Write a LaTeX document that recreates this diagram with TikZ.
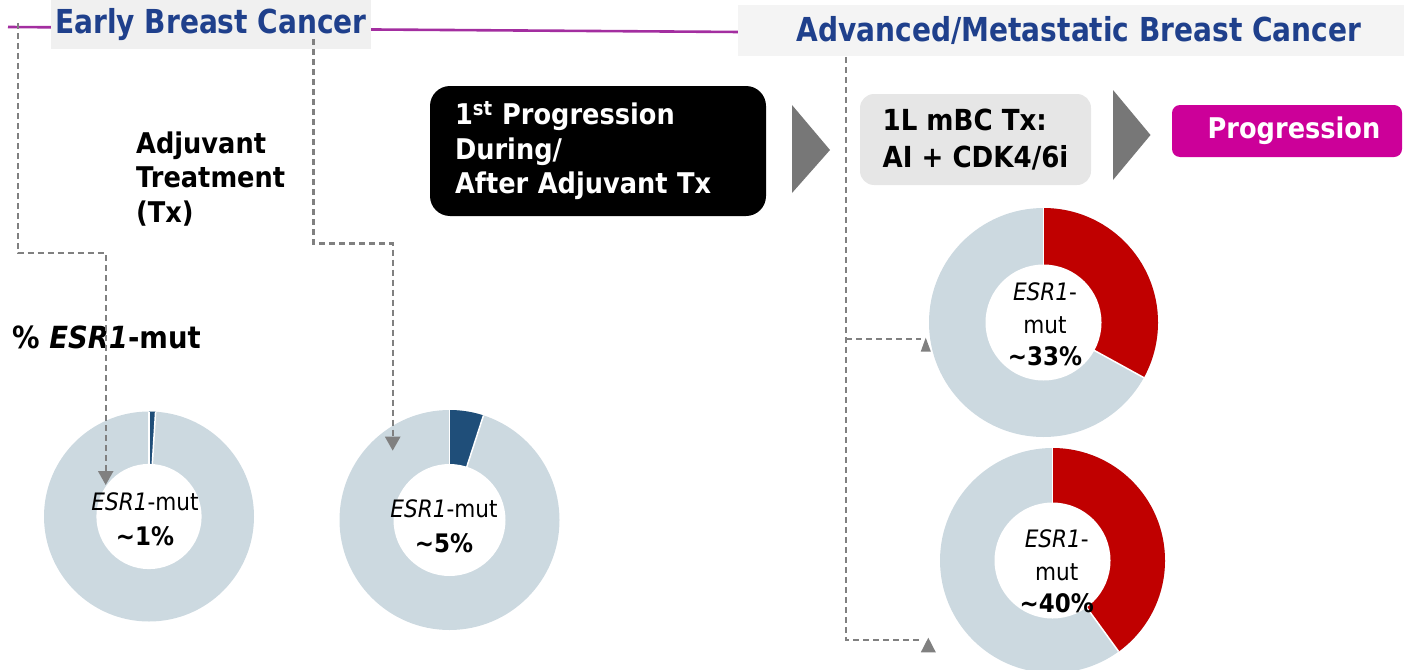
\documentclass[tikz,border=0pt]{standalone}
\usepackage{fontspec}
\setmainfont{DejaVu Sans}[FakeStretch=0.9]
\newfontfamily\hdrfont{DejaVu Sans}[FakeStretch=0.85]
\usetikzlibrary{arrows.meta}
\definecolor{hdrblue}{RGB}{31,64,140}
\definecolor{hdrbg}{RGB}{240,240,240}
\definecolor{hdrbgb}{RGB}{244,244,244}
\definecolor{linepurple}{RGB}{163,46,160}
\definecolor{dashgray}{RGB}{128,128,128}
\definecolor{arrowgray}{RGB}{119,119,119}
\definecolor{ringgray}{RGB}{204,217,224}
\definecolor{segblue}{RGB}{31,78,121}
\definecolor{segred}{RGB}{192,0,0}
\definecolor{progmag}{RGB}{204,0,153}
\definecolor{txbox}{RGB}{230,230,230}
\pgfdeclarelayer{bg}
\pgfsetlayers{bg,main}
\newcommand\fs[2]{\fontsize{#1}{#2}\selectfont}
\newcommand\mydonut[7]{%
  \coordinate (#1) at (#2,#3);
  \fill[ringgray] (#1) circle[radius=#4];
  \fill[#7] (#1) -- ++(-90:#4) arc[start angle=-90, end angle={-90+360*#6}, radius=#4] -- cycle;
  \draw[white, line width=1.5pt] (#1) -- ++(-90:#4);
  \draw[white, line width=1.5pt] (#1) -- ++({-90+360*#6}:#4);
  \fill[white] (#1) circle[radius=#5];
}
\begin{document}
\begin{tikzpicture}[x=1pt,y=-1pt,
  hdr/.style={fill=#1, inner sep=0pt, text=hdrblue, font=\hdrfont\bfseries\fs{33}{38}},
  dashline/.style={draw=dashgray, line width=2.4pt, dash pattern=on 6pt off 4pt},
  downtip/.style={-{Triangle[width=15pt,length=14pt]}},
  lbl/.style={font=\bfseries\fs{28.5}{34.5}, inner sep=0pt, align=left, anchor=north west},
  dtext/.style={font=\fs{24}{35}, align=center, inner sep=0pt},
  flowtri/.style={fill=arrowgray}]
\useasboundingbox (0,0) rectangle (1404,669);
\clip (0,0) rectangle (1404,669);

% headers
\node[hdr=hdrbg, minimum width=320pt, minimum height=49pt] (early) at (211,24.5) {Early Breast Cancer};
\node[hdr=hdrbgb, minimum width=666pt, minimum height=51pt] (adv) at (1071,30.5) {\hspace*{16pt}Advanced/Metastatic Breast Cancer};
\coordinate (pl) at (8,27);
\coordinate (pr) at (740,32);
\begin{pgfonlayer}{bg}
\draw[linepurple, line width=2.6pt] (pl) -- (pr);
\end{pgfonlayer}

% left labels
\node[lbl] (adj) at (136,131.3) {Adjuvant\\Treatment\\(Tx)};
\node[font=\bfseries\fs{30.5}{34}, inner sep=0pt, anchor=base west] (pct) at (12,348) {\% \textit{ESR1}-mut};

% flow boxes
\node[fill=black, rounded corners=20pt, text=white, font=\bfseries\fs{28.5}{34.5},
  inner xsep=25pt, inner ysep=0pt, text width=286pt, minimum height=130pt, align=left] (first) at (598,151)
  {1\textsuperscript{st} Progression\\During/\\After Adjuvant Tx};
\node[fill=txbox, rounded corners=14pt, font=\bfseries\fs{29}{36.5},
  inner sep=0pt, minimum width=231pt, minimum height=91pt, align=left] (tx) at (975.5,139.5)
  {1L mBC Tx:\\AI + CDK4/6i};
\node[fill=progmag, rounded corners=8pt, text=white, font=\bfseries\fs{28.5}{34},
  minimum width=230pt, minimum height=52pt, inner sep=0pt] (prog) at (1287,131) {\hspace*{14pt}Progression};

\fill[flowtri] (792,105) -- (830,150) -- (792,193) -- cycle;
\fill[flowtri] (1113,90) -- (1150.5,135) -- (1113,180) -- cycle;

% donuts
\mydonut{d1}{149}{516.5}{105}{52.6}{0.01}{segblue}
\mydonut{d2}{449.5}{520}{110}{56}{0.05}{segblue}
\mydonut{d3}{1043.5}{322.5}{114.5}{58}{0.33}{segred}
\mydonut{d4}{1052.5}{560.5}{112.5}{58}{0.40}{segred}

\node[dtext] (t1) at (145,519.7) {\textit{ESR1}-mut\\\textbf{\fs{25.5}{35}\textasciitilde1\%}};
\node[dtext] (t2) at (444,526.7) {\textit{ESR1}-mut\\\textbf{\fs{25.5}{35}\textasciitilde5\%}};
\node[dtext, font=\fs{24}{32.5}] (t3) at (1045,324.7) {\textit{ESR1}-\\mut\\\textbf{\fs{25.5}{32.5}\textasciitilde33\%}};
\node[dtext, font=\fs{24}{32.5}] (t4) at (1056.7,571.3) {\textit{ESR1}-\\mut\\\textbf{\fs{25.5}{32.5}\textasciitilde40\%}};

% dashed connectors
\coordinate (a1) at (17.7,23);
\coordinate (a1t) at (105.7,253);
\coordinate (a1e) at (105.7,485);
\draw[dashline, downtip] (a1) |- (a1t) -- (a1e);
\coordinate (a2) at (313.3,39);
\coordinate (a2t) at (392.7,243.3);
\coordinate (a2e) at (392.7,450.7);
\draw[dashline, downtip] (a2) |- (a2t) -- (a2e);

\coordinate (r0) at (846,57);
\coordinate (r1) at (846,339);
\coordinate (r1e) at (921,339);
\coordinate (r2) at (846,640);
\coordinate (r2e) at (921,640);
\draw[dashline] (r0) -- (r2) -- (r2e);
\draw[dashline] (r1) -- (r1e);
\fill[dashgray] (920.7,351.7) -- (925.7,337.7) -- (930.9,351.7) -- cycle;
\fill[dashgray] (920.8,652.3) -- (928.3,637.7) -- (935.8,652.3) -- cycle;
\end{tikzpicture}
\end{document}
